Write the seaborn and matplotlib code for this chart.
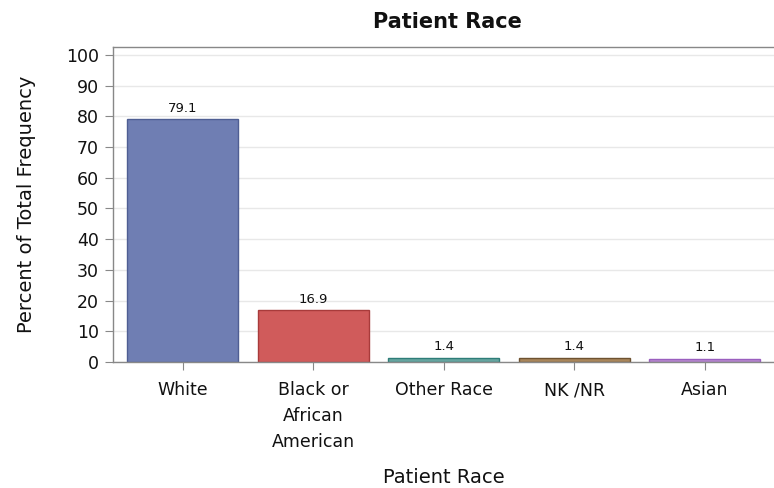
import numpy as np
import pandas as pd
import matplotlib
matplotlib.use('Agg')
import matplotlib.pyplot as plt
import seaborn as sns

races = ['White', 'Black or\nAfrican\nAmerican', 'Other Race', 'NK /NR', 'Asian']
percents = [79.1, 16.9, 1.4, 1.4, 1.1]
fill_colors = ['#6F7EB3', '#D05B5B', '#66A5A0', '#A9865B', '#B689CD']
edge_colors = ['#4F5E93', '#A83B3B', '#2E7D78', '#6E5230', '#9A5FBF']

df = pd.DataFrame({'race': races, 'pct': percents})

sns.set_style('white')
plt.rcParams['font.family'] = ['DejaVu Sans']

fig = plt.figure(figsize=(7.74, 4.88), dpi=100)
ax = fig.add_axes([113/774, 1-362/488, 661/774, (362-47)/488])

sns.barplot(data=df, x='race', y='pct', hue='race', palette=fill_colors,
            legend=False, width=0.85, ax=ax, saturation=1)
for p, ec in zip(ax.patches, edge_colors):
    p.set_edgecolor(ec)
    p.set_linewidth(1.0)

for i, v in enumerate(percents):
    ax.text(i, v + 1.5, f'{v:.1f}', ha='center', va='bottom', fontsize=9.5, color='#111111')

ax.set_ylim(0, 102.6)
ax.set_xlim(-0.536, 4.53)
ax.set_yticks(range(0, 101, 10))
ax.yaxis.grid(True, color='#E8E8E8', linewidth=1)
ax.set_axisbelow(True)
for s in ax.spines.values():
    s.set_color('#888888')
    s.set_linewidth(1)
ax.spines['right'].set_visible(False)
ax.tick_params(axis='both', which='both', length=6, color='#888888', labelsize=12.5,
               labelcolor='#111111', pad=4, left=True, bottom=True)
ax.tick_params(axis='x', pad=8)
for lbl in ax.get_xticklabels():
    lbl.set_linespacing(1.55)
ax.set_ylabel('Percent of Total Frequency', fontsize=14, labelpad=22, color='#111111')
ax.set_xlabel('Patient Race', fontsize=14, labelpad=12, color='#111111')
fig.suptitle('Patient Race', fontsize=15, fontweight='bold', x=0.578, y=0.975, color='#111111')

fig.savefig('out.png', dpi=100)
